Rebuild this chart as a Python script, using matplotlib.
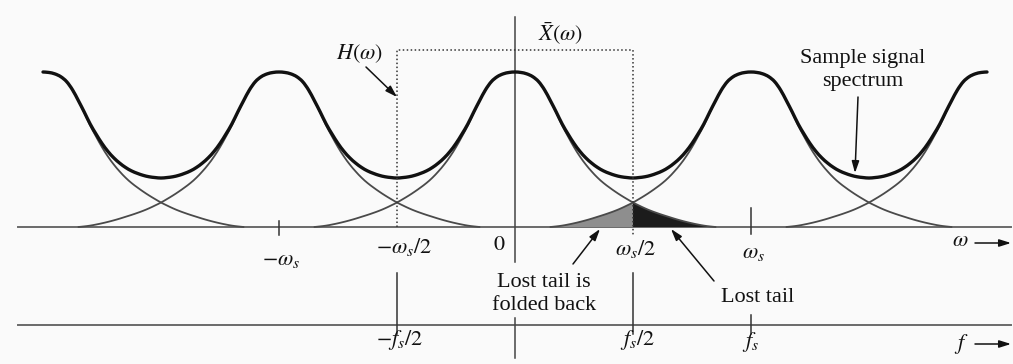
import numpy as np
import matplotlib
matplotlib.use("Agg")
import matplotlib.pyplot as plt
from matplotlib.path import Path
from matplotlib.patches import PathPatch

# One replica of the baseband spectrum |X(w)|, sampled at offsets from its
# centre (offsets in units of the sampling frequency w_s, level relative to peak)
pulse_offset = [0.000, 0.025, 0.050, 0.075, 0.100, 0.125, 0.150, 0.175, 0.200,
                0.225, 0.250, 0.275, 0.300, 0.325, 0.350, 0.375, 0.400, 0.425,
                0.450, 0.475, 0.500, 0.525, 0.550, 0.575, 0.600, 0.625, 0.650,
                0.675, 0.700, 0.725, 0.750, 0.775, 0.800, 0.825, 0.850]
pulse_level = [1.000, 0.997, 0.988, 0.970, 0.938, 0.885, 0.815, 0.737, 0.655,
               0.583, 0.515, 0.455, 0.403, 0.358, 0.318, 0.284, 0.255, 0.228,
               0.203, 0.180, 0.158, 0.139, 0.121, 0.105, 0.091, 0.078, 0.066,
               0.054, 0.043, 0.033, 0.024, 0.016, 0.009, 0.004, 0.000]

# Replica centres (multiples of w_s) and the range the sampled spectrum covers
replica_centers = [-2, -1, 0, 1, 2]
omega_span = (-2.0, 2.0)
grid_step = 0.025

# Axis labels
omega_labels = [r"$-\omega_s$", r"$-\omega_s/2$", r"$0$", r"$\omega_s/2$", r"$\omega_s$"]
omega_label_x = [-0.99, -0.47, -0.065, 0.51, 1.01]
omega_label_y = [-0.215, -0.13, -0.12, -0.14, -0.17]
f_labels = [r"$-f_s/2$", r"$f_s/2$", r"$f_s$"]
f_label_x = [-0.49, 0.52, 1.0]
f_label_y = [-0.73, -0.73, -0.745]

BG = "#fafafa"
INK = "#111111"
THIN = "#4a4a4a"
AXIS = "#6a6a6a"

# pixel layout of the drawing: w = 0 column, w_s spacing, baseline row, peak height
X0, WS, Y0, HP = 515, 236, 227, 155

plt.rcParams["font.family"] = ["Liberation Serif", "DejaVu Serif"]
plt.rcParams["mathtext.fontset"] = "stix"

fig = plt.figure(figsize=(10.13, 3.64), dpi=100, facecolor=BG)
ax = fig.add_axes([0, 0, 1, 1])
ax.set_facecolor(BG)
ax.set_xlim(-X0 / WS, (1013 - X0) / WS)
ax.set_ylim((Y0 - 364) / HP, Y0 / HP)
ax.axis("off")


def px(x):
    return (x - X0) / WS


def py(y):
    return (Y0 - y) / HP


def pulse(d):
    d = np.abs(np.asarray(d, dtype=float))
    out = np.interp(d, pulse_offset, pulse_level)
    return np.where(d <= pulse_offset[-1] + 1e-9, out, 0.0)


def smooth_path(x, y):
    """Catmull-Rom curve through the sample points, as cubic Bezier segments."""
    pts = np.column_stack([x, y])
    p = np.vstack([pts[0], pts, pts[-1]])
    verts = [pts[0]]
    codes = [Path.MOVETO]
    for i in range(1, len(p) - 2):
        p0, p1, p2, p3 = p[i - 1], p[i], p[i + 1], p[i + 2]
        verts += [p1 + (p2 - p0) / 6.0, p2 - (p3 - p1) / 6.0, p2]
        codes += [Path.CURVE4] * 3
    return Path(verts, codes)


def filled_tail(x, y, color, z):
    base = smooth_path(x, y)
    verts = list(base.vertices) + [(x[-1], 0.0), (x[0], 0.0), (x[0], 0.0)]
    codes = list(base.codes) + [Path.LINETO, Path.LINETO, Path.CLOSEPOLY]
    ax.add_patch(PathPatch(Path(verts, codes), facecolor=color,
                           edgecolor="none", zorder=z))


n_pts = int(round((omega_span[1] - omega_span[0]) / grid_step)) + 1
grid = np.linspace(omega_span[0], omega_span[1], n_pts)
total = np.zeros_like(grid)
for c in replica_centers:
    total += pulse(grid - c)

# Aliased tails around w_s/2
half = pulse_offset[-1]
gx = grid[(grid >= 1 - half - 1e-9) & (grid <= 0.5 + 1e-9)]
filled_tail(gx, pulse(gx - 1), "#8e8e8e", 2)
dx = grid[(grid >= 0.5 - 1e-9) & (grid <= half + 1e-9)]
filled_tail(dx, pulse(dx), "#1c1c1c", 2)

# Individual replicas (thin)
offs = np.asarray(pulse_offset)
for c in replica_centers:
    u = np.concatenate([-offs[::-1], offs[1:]]) + c
    keep = (u >= omega_span[0] - 1e-9) & (u <= omega_span[1] + 1e-9)
    u = u[keep]
    ax.add_patch(PathPatch(smooth_path(u, pulse(u - c)), facecolor="none",
                           edgecolor=THIN, lw=1.3, zorder=3,
                           capstyle="round"))

# Sampled-signal spectrum (sum of replicas)
ax.add_patch(PathPatch(smooth_path(grid, total), facecolor="none",
                       edgecolor=INK, lw=2.4, zorder=4, capstyle="round",
                       joinstyle="round"))

# Frequency axes
ax.plot([px(18), px(1011)], [0, 0], color=AXIS, lw=1.4, zorder=1)
ax.plot([px(18), px(1011)], [py(325), py(325)], color=AXIS, lw=1.4, zorder=1)

# Vertical axis at w = 0 (broken around the annotation text)
ax.plot([0, 0], [py(17), py(262)], color="#444444", lw=1.1, zorder=1)
ax.plot([0, 0], [py(318), py(358)], color="#444444", lw=1.1, zorder=1)

# Ideal low-pass filter H(w)
ax.plot([-0.5, -0.5, 0.5, 0.5], [0, py(50), py(50), py(235)], color="#333333",
        lw=1.1, ls=(0, (1, 1.6)), zorder=5)

# Tick marks
ax.plot([-1, -1], [py(221), py(235)], color="#333333", lw=1.1)
ax.plot([1, 1], [py(208), py(234)], color="#333333", lw=1.1)
for xv in (-0.5, 0.5):
    ax.plot([xv, xv], [py(273), py(334)], color="#333333", lw=1.1)
ax.plot([1, 1], [py(315), py(334)], color="#333333", lw=1.1)

FS = 16
for lab, x, y in zip(omega_labels, omega_label_x, omega_label_y):
    ax.text(x, y, lab, ha="center", va="center", fontsize=FS, color=INK)
for lab, x, y in zip(f_labels, f_label_x, f_label_y):
    ax.text(x, y, lab, ha="center", va="center", fontsize=FS, color=INK)

# Axis names with arrows
arrow_kw = dict(arrowstyle="-|>,head_length=0.7,head_width=0.22", color=INK,
                lw=1.1, shrinkA=0, shrinkB=0)
ax.text(px(960), py(242), r"$\omega$", ha="center", va="center",
        fontsize=FS, color=INK)
ax.annotate("", xy=(px(1011), py(243)), xytext=(px(975), py(243)),
            arrowprops=arrow_kw)
ax.text(px(961), py(344), r"$f$", ha="center", va="center",
        fontsize=FS, color=INK)
ax.annotate("", xy=(px(1011), py(344)), xytext=(px(975), py(344)),
            arrowprops=arrow_kw)

# Annotations
ax.text(px(360), py(54), r"$H(\omega)$", ha="center", va="center",
        fontsize=FS, color=INK)
ax.annotate("", xy=(-0.5, py(97)), xytext=(px(366), py(67)),
            arrowprops=arrow_kw)

ax.text(px(561), py(34), r"$\bar{X}(\omega)$", ha="center", va="center",
        fontsize=FS, color=INK)

ax.text(px(863), py(70), "Sample signal\nspectrum", ha="center",
        va="center", fontsize=FS, color=INK, linespacing=1.35)
ax.annotate("", xy=(px(855), py(173)), xytext=(px(858), py(97)),
            arrowprops=arrow_kw)

ax.text(px(544), py(294), "Lost tail is\nfolded back", ha="center",
        va="center", fontsize=FS, color=INK, linespacing=1.3)
ax.annotate("", xy=(px(600), py(229)), xytext=(px(573), py(264)),
            arrowprops=arrow_kw)

ax.text(px(758), py(297), "Lost tail", ha="center", va="center",
        fontsize=FS, color=INK)
ax.annotate("", xy=(px(671), py(229)), xytext=(px(714), py(281)),
            arrowprops=arrow_kw)

fig.savefig("out.png", dpi=100, facecolor=BG)
